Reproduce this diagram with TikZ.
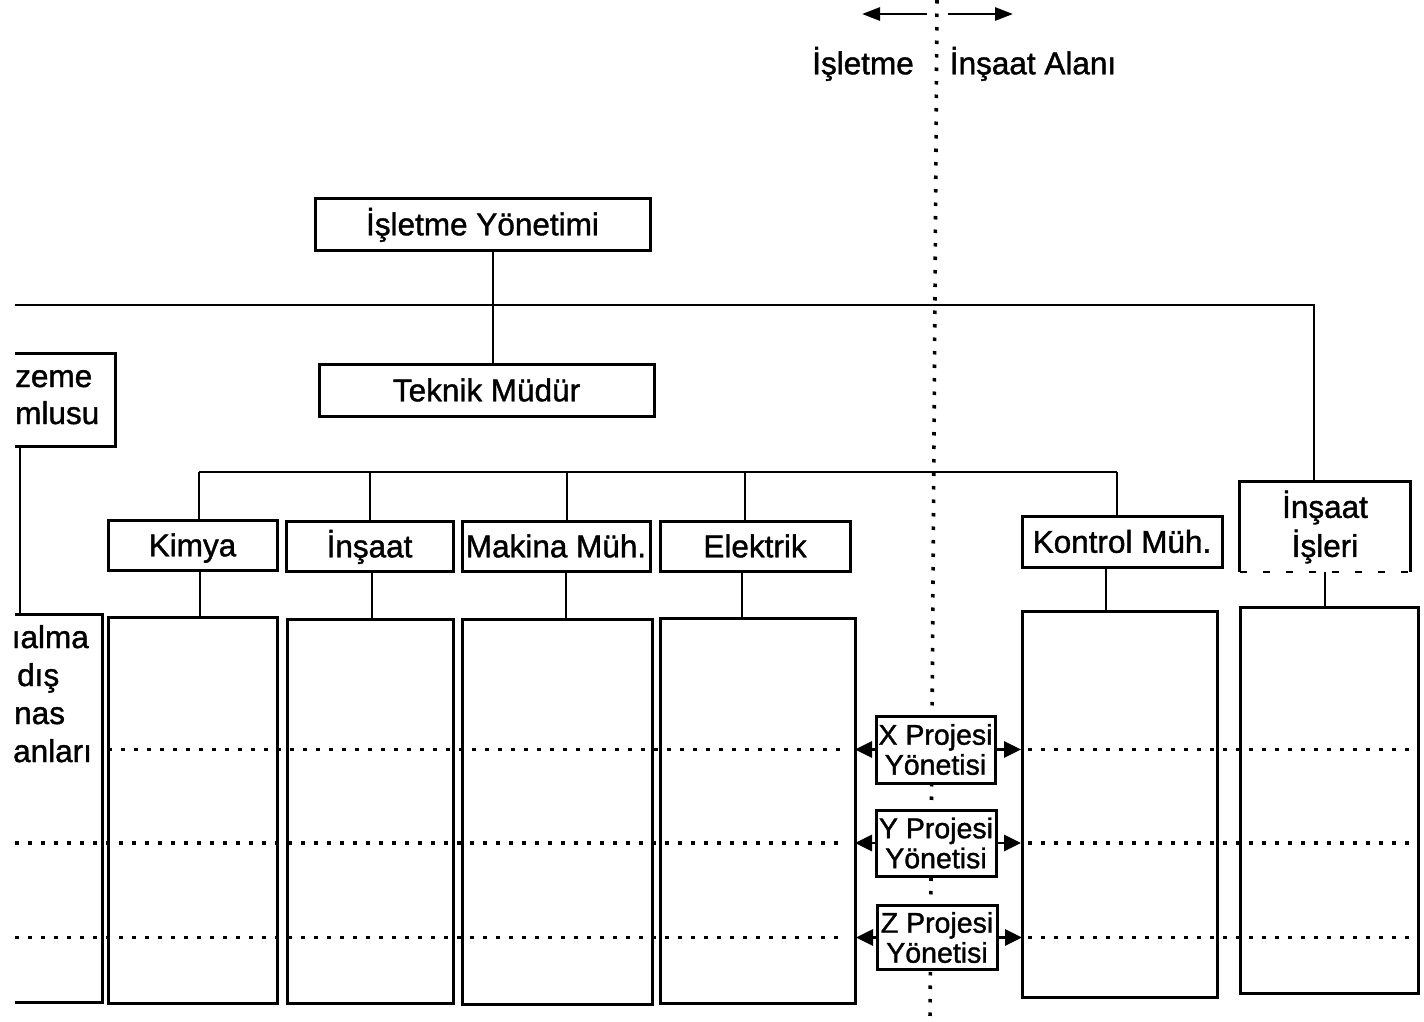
\documentclass[tikz,border=0pt]{standalone}
\usepackage{fontspec}
\setmainfont{Liberation Sans}[FakeBold=1.3]
\usetikzlibrary{arrows.meta,calc}

\begin{document}
\begin{tikzpicture}[x=1pt,y=-1pt,
  every node/.style={font=\fontsize{31.5}{39}\selectfont},
  captext/.style={text height=22.5pt, text depth=0pt},
  box/.style={draw, line width=3pt, fill=white, inner sep=0pt, align=center},
  col/.style={draw, line width=3pt, inner sep=0pt},
  proj/.style={box, font=\fontsize{28.5}{30}\selectfont},
  link/.style={line width=2.5pt},
  hdots/.style={line width=3.6pt, dash pattern=on 3.5pt off 9.5pt},
  vdots/.style={line width=3.6pt, dash pattern=on 3.5pt off 10pt},
  side/.style={-{Triangle[length=17pt,width=16pt]}, line width=2.8pt},
  dir/.style={-{Triangle[length=18pt,width=13pt]}, line width=2.8pt},
  lbl/.style={inner sep=0pt, anchor=base west},
]
\useasboundingbox[fill=white] (0,0) rectangle (1424,1021);

% boundary between the plant and the construction site
\coordinate (divtop) at (937,0);
\coordinate (divbot) at (930,1021);
\draw[vdots] (divtop) -- (divbot);

% direction arrows and side labels
\coordinate (la) at (927,14); \coordinate (lb) at (862,14);
\coordinate (ra) at (948,14); \coordinate (rb) at (1013,14);
\draw[dir] (la) -- (lb);
\draw[dir] (ra) -- (rb);
\node[captext, inner sep=0pt] (opside) at (863,63) {İşletme};
\node[captext, inner sep=0pt] (siteside) at (1033,63) {İnşaat Alanı};

% management levels
\node[box, captext, minimum width=335pt, minimum height=52pt] (mgmt) at (482.5,224) {İşletme Yönetimi};
\node[box, captext, minimum width=335pt, minimum height=52pt] (tech) at (486.5,390) {Teknik Müdür};

% departments
\node[box, captext, minimum width=169pt, minimum height=50pt] (kimya) at (192.5,545) {Kimya};
\node[box, captext, minimum width=167pt, minimum height=50pt] (insaat) at (369.5,546) {İnşaat};
\node[box, captext, minimum width=188pt, minimum height=50pt] (makina) at (556,546) {Makina Müh.};
\node[box, captext, minimum width=190pt, minimum height=50pt] (elektrik) at (755,546) {Elektrik};
\node[box, captext, minimum width=200pt, minimum height=51pt] (kontrol) at (1122,541.5) {Kontrol Müh.};
\node[inner sep=0pt, align=center, minimum width=170pt, minimum height=90pt] (isleri) at (1325,527) {İnşaat\\İşleri};
\draw[line width=3pt] (isleri.south west) -- (isleri.north west) -- (isleri.north east) -- (isleri.south east);
\draw[line width=1.8pt, dash pattern=on 7pt off 16pt] (isleri.south west) -- (isleri.south east);

% department staff columns
\node[col, minimum width=169pt, minimum height=386pt] (kimyacol) at (192.5,810) {};
\node[col, minimum width=166pt, minimum height=384pt] (insaatcol) at (370,811) {};
\node[col, minimum width=190pt, minimum height=385pt] (makinacol) at (557,811.5) {};
\node[col, minimum width=195pt, minimum height=385pt] (elektrikcol) at (757.5,810.5) {};
\node[col, minimum width=195pt, minimum height=386pt] (kontrolcol) at (1119.5,804) {};
\node[col, minimum width=178pt, minimum height=386pt] (islericol) at (1329,800) {};

% boxes running off the left edge
\begin{scope}
  \clip (15,-5) rectangle (1430,1030);
  \node[col, minimum width=185pt, minimum height=93pt] (stock) at (22.5,399.5) {};
  \node[col, minimum width=172pt, minimum height=388pt] (buycol) at (16,808) {};
\end{scope}
\node[lbl] (s1) at (15,387) {zeme};
\node[lbl] (s2) at (15,424) {mlusu};
\node[inner sep=0pt, anchor=base east] (b1) at (89,648) {ıalma};
\node[lbl] (b2) at (17,686) {dış};
\node[lbl] (b3) at (14,724) {nas};
\node[lbl] (b4) at (13,762) {anları};

% top-level connectors
\coordinate (hub) at (493,305);
\coordinate (westend) at (15,305);
\coordinate (eastturn) at (1314,305);
\draw[link] (mgmt.south -| hub) -- (tech.north -| hub);
\draw[link] (westend) -- (eastturn) -- (eastturn |- isleri.north);
\coordinate (lx) at (20,0);
\draw[link] (stock.south -| lx) -- (buycol.north -| lx);

% department bus
\coordinate (d1) at (199,472);
\coordinate (d2) at (370,472);
\coordinate (d3) at (567,472);
\coordinate (d4) at (745,472);
\coordinate (d5) at (1117,472);
\draw[link] (d1) -- (d5);
\draw[link] (d1) -- (d1 |- kimya.north);
\draw[link] (d2) -- (d2 |- insaat.north);
\draw[link] (d3) -- (d3 |- makina.north);
\draw[link] (d4) -- (d4 |- elektrik.north);
\draw[link] (d5) -- (d5 |- kontrol.north);

% department to column connectors
\coordinate (e1) at (200,0);
\coordinate (e2) at (372,0);
\coordinate (e3) at (566,0);
\coordinate (e4) at (742,0);
\coordinate (e5) at (1106,0);
\coordinate (e6) at (1325,0);
\draw[link] (kimya.south -| e1) -- (kimyacol.north -| e1);
\draw[link] (insaat.south -| e2) -- (insaatcol.north -| e2);
\draw[link] (makina.south -| e3) -- (makinacol.north -| e3);
\draw[link] (elektrik.south -| e4) -- (elektrikcol.north -| e4);
\draw[link] (kontrol.south -| e5) -- (kontrolcol.north -| e5);
\draw[link] (isleri.south -| e6) -- (islericol.north -| e6);

% project management boxes
\node[proj, minimum width=119pt, minimum height=67pt] (xproj) at (935.5,749.5) {X Projesi\\Yönetisi};
\node[proj, minimum width=120pt, minimum height=66pt] (yproj) at (936,843) {Y Projesi\\Yönetisi};
\node[proj, minimum width=120pt, minimum height=64pt] (zproj) at (937,937.5) {Z Projesi\\Yönetisi};

% project rows across the columns
\coordinate (x1) at (108,749.5);  \coordinate (x2) at (840,749.5);
\coordinate (x3) at (1028,749.5); \coordinate (x4) at (1412,749.5);
\coordinate (y1) at (15,843);     \coordinate (y2) at (840,843);
\coordinate (y3) at (1028,843);   \coordinate (y4) at (1412,843);
\coordinate (z1) at (15,937.5);   \coordinate (z2) at (840,937.5);
\coordinate (z3) at (1028,937.5); \coordinate (z4) at (1412,937.5);
\draw[hdots] (x1) -- (x2); \draw[hdots] (x3) -- (x4);
\draw[hdots] (y1) -- (y2); \draw[hdots] (y3) -- (y4);
\draw[hdots] (z1) -- (z2); \draw[hdots] (z3) -- (z4);

\coordinate (xl) at (855,749.5);  \coordinate (xr) at (1021,749.5);
\coordinate (yl) at (855,843);    \coordinate (yr) at (1021,843);
\coordinate (zl) at (856,937.5);  \coordinate (zr) at (1022,937.5);
\draw[side] (xproj.west) -- (xl); \draw[side] (xproj.east) -- (xr);
\draw[side] (yproj.west) -- (yl); \draw[side] (yproj.east) -- (yr);
\draw[side] (zproj.west) -- (zl); \draw[side] (zproj.east) -- (zr);
\end{tikzpicture}
\end{document}
